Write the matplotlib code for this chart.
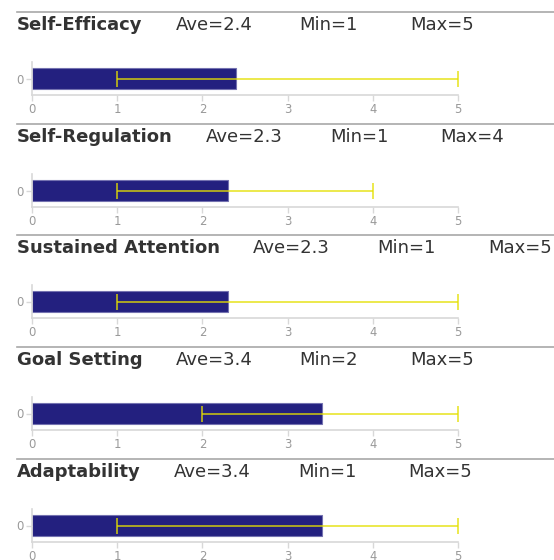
"""Score summary panels: average score bar with min-max whisker per competency."""
import matplotlib.pyplot as plt
from matplotlib.lines import Line2D
from matplotlib.text import Annotation

# ---- data ----
categories = ["Self-Efficacy", "Self-Regulation", "Sustained Attention",
              "Goal Setting", "Adaptability"]
averages = [2.4, 2.3, 2.3, 3.4, 3.4]
minimums = [1, 1, 1, 2, 1]
maximums = [5, 4, 5, 5, 5]
x_ticks = [0, 1, 2, 3, 4, 5]

W, H, DPI = 554, 560, 100
PT = 72.0 / DPI  # points per pixel

BAR_COLOR = "#23207f"
BAR_EDGE = "#7472b0"
WHISKER = "#e4df00"
GRID_GRAY = "#d8d8d8"
TICK_GRAY = "#999999"
TEXT_DARK = "#333333"
FS = 13.0

section_tops = [12, 124, 235, 347, 459]  # separator rows, px from top

fig = plt.figure(figsize=(W / DPI, H / DPI), dpi=DPI)


def fx(px):
    return px / W


def fy(py):
    return 1 - py / H


def header_item(label, anchor, xy, gap_px):
    """Text placed gap_px to the right of an anchor text artist."""
    return fig.add_artist(Annotation(
        label, xy=xy, xycoords=anchor, xytext=(gap_px * PT, 0),
        textcoords="offset points", fontsize=FS, color=TEXT_DARK,
        va="center", ha="left"))


for i, name in enumerate(categories):
    top = section_tops[i]

    # separator line above each panel
    fig.add_artist(Line2D([fx(17), fx(W)], [fy(top), fy(top)],
                          color="#a8a8a8", lw=1.2))

    # header: bold name then Ave / Min / Max
    title = fig.text(fx(17), fy(top + 13), name, fontsize=FS,
                     fontweight="bold", color=TEXT_DARK, va="center", ha="left")
    a = header_item(f"Ave={averages[i]}", title, (1, 0.5), 33)
    m = header_item(f"Min={minimums[i]}", a, (0, 0.5), 124)
    header_item(f"Max={maximums[i]}", m, (0, 0.5), 111)

    # bar panel
    ax = fig.add_axes([fx(32), fy(top + 83), fx(426), 33 / H])
    ax.barh([0], [averages[i]], height=0.64, color=BAR_COLOR,
            edgecolor=BAR_EDGE, linewidth=0.8)
    lo = averages[i] - minimums[i]
    hi = maximums[i] - averages[i]
    ax.errorbar([averages[i]], [0], xerr=[[lo], [hi]], fmt="none",
                ecolor=WHISKER, elinewidth=1.4, capsize=6,
                capthick=1.4, alpha=0.7)

    ax.set_xlim(0, 5)
    ax.set_ylim(-0.5, 0.5)
    ax.set_xticks(x_ticks)
    ax.set_yticks([0])
    ax.set_facecolor("none")
    for side in ("top", "right"):
        ax.spines[side].set_visible(False)
    for side in ("left", "bottom"):
        ax.spines[side].set_color(GRID_GRAY)
        ax.spines[side].set_linewidth(1.2)
    ax.tick_params(axis="both", colors=GRID_GRAY, labelcolor=TICK_GRAY,
                   labelsize=8.4, length=4, width=1, pad=2)

fig.savefig("out.png", dpi=DPI)
